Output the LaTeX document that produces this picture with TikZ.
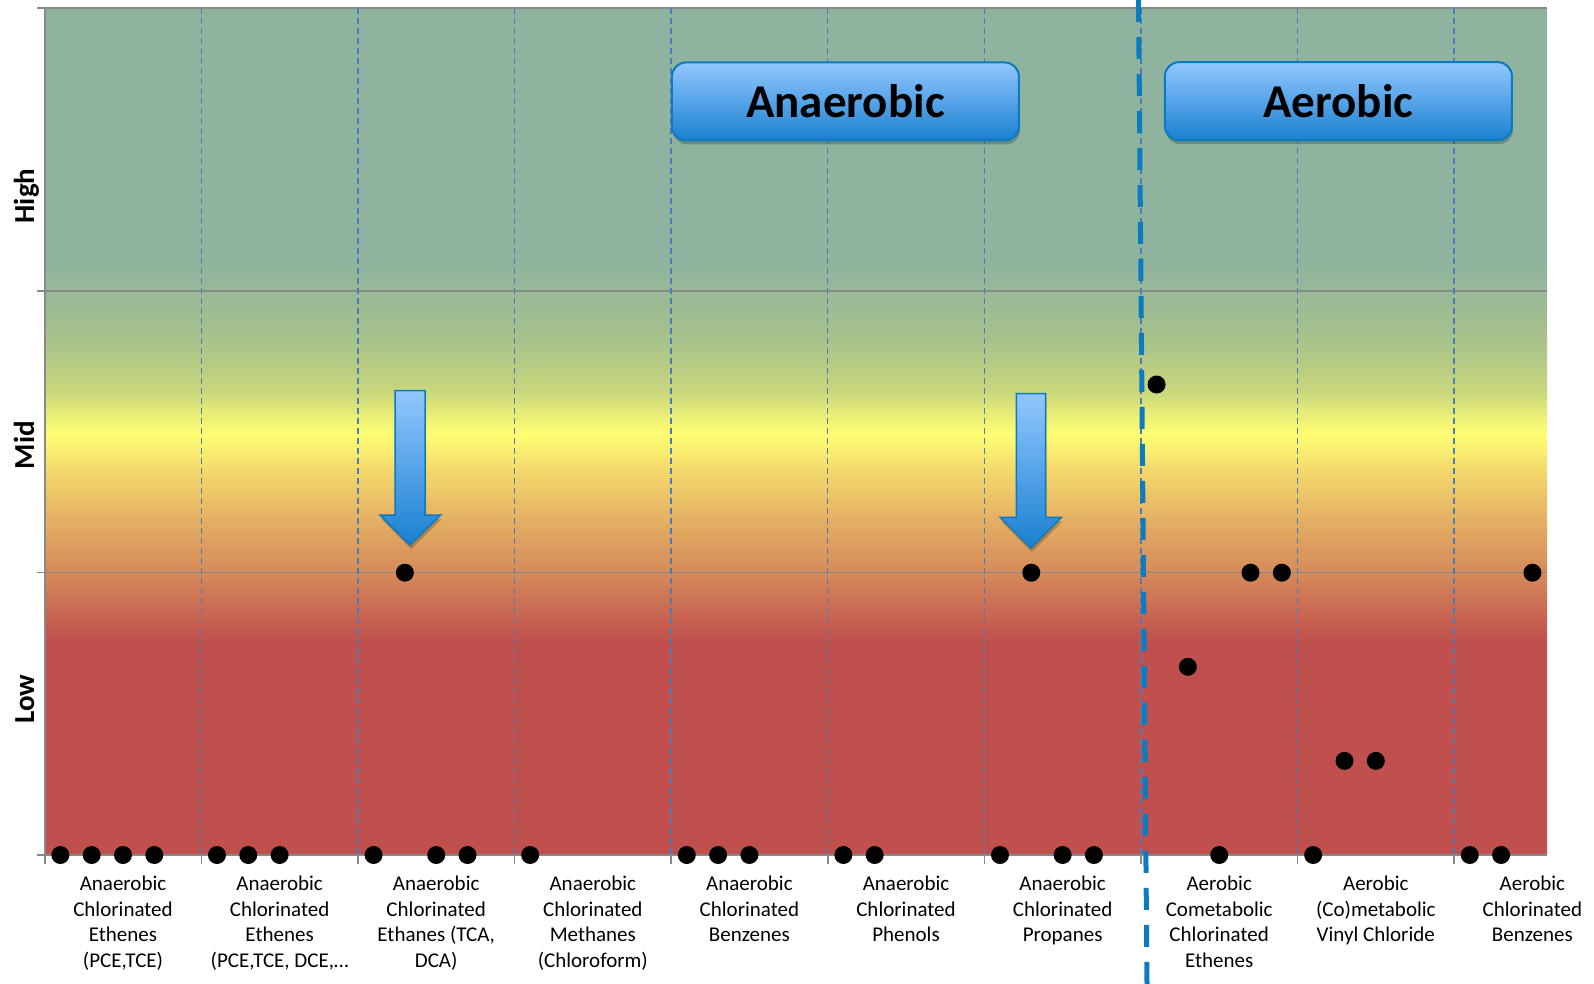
\documentclass[tikz,border=0pt]{standalone}
\usepackage{fontspec}
\setmainfont{Carlito}
\usetikzlibrary{shadows}
\definecolor{bgred}{HTML}{C0504D}
\definecolor{bgc1}{HTML}{D58A5A}
\definecolor{bgc2}{HTML}{E3AD63}
\definecolor{bgc3}{HTML}{F3D66B}
\definecolor{bgyel}{HTML}{FFFF73}
\definecolor{bgc5}{HTML}{C8D67C}
\definecolor{bgc6}{HTML}{A8C28B}
\definecolor{bggreen}{HTML}{8FB39F}
\definecolor{gridgray}{HTML}{898989}
\definecolor{coldash}{HTML}{4A7EBB}
\definecolor{splitblue}{HTML}{0C7CC1}
\definecolor{boxedge}{HTML}{0B7BC0}
\definecolor{boxtop}{HTML}{92C7FF}
\definecolor{boxbot}{HTML}{1A80D0}
\pgfdeclareverticalshading{chartbg}{100bp}{%
color(0bp)=(bgred);
color(25bp)=(bgred);
color(37.69bp)=(bgred);
color(41.65bp)=(bgc1);
color(44.60bp)=(bgc2);
color(47.55bp)=(bgc3);
color(49.91bp)=(bgyel);
color(52.45bp)=(bgc5);
color(55.40bp)=(bgc6);
color(60.12bp)=(bggreen);
color(75bp)=(bggreen);
color(100bp)=(bggreen)}
\begin{document}
\begin{tikzpicture}[x=1pt,y=-1pt,
  gridline/.style={draw=gridgray, line width=1.6pt},
  coldivider/.style={draw=coldash, line width=1.3pt, dash pattern=on 6pt off 4pt},
  splitline/.style={draw=splitblue, line width=5pt, dash pattern=on 22pt off 15pt},
  dot/.style={circle, fill=black, inner sep=0pt, minimum size=18pt},
  collabel/.style={anchor=base, align=flush center, text width=156pt, inner sep=0pt,
    font=\fontsize{21}{25.7}\selectfont},
  levellabel/.style={rotate=90, anchor=base, inner sep=0pt,
    font=\fontsize{29}{34}\selectfont\bfseries},
  phasebox/.style={draw=boxedge, line width=2pt, rounded corners=14pt,
    minimum width=347pt, minimum height=78pt, top color=boxtop, bottom color=boxbot,
    font=\fontsize{47}{56}\selectfont\bfseries,
    drop shadow={shadow xshift=1pt, shadow yshift=-4pt, opacity=0.22, fill=black}},
  blockarrow/.style={draw=boxedge, line width=1.5pt, top color=boxtop, bottom color=boxbot,
    drop shadow={shadow xshift=1pt, shadow yshift=-4pt, opacity=0.22, fill=black}}
]
\useasboundingbox (0,0) rectangle (1594,984);
\fill[white] (0,0) rectangle (1594,984);
% background
\shade[shading=chartbg] (44.7,8.1) rectangle (1547,855);
% horizontal grid lines and axes
\foreach \yy in {8.1,290.7,572.3,855} {
  \draw[gridline] (37,\yy) -- (1547,\yy);
}
\draw[gridline] (44.7,8.1) -- (44.7,855);
\foreach \i in {0,...,9} {
  \draw[gridline] ({44.7+156.6*\i},855) -- ({44.7+156.6*\i},864);
}
% column dividers
\foreach \i in {1,...,9} {
  \draw[coldivider] ({44.7+156.6*\i},8.1) -- ({44.7+156.6*\i},855);
}
% anaerobic/aerobic split
\coordinate (splittop) at (1138.5,0);
\coordinate (splitbot) at (1147,984);
\draw[splitline] (splittop) -- (splitbot);
% phase boxes
\node[phasebox] (anaer) at (845.4,101.5) {Anaerobic};
\node[phasebox] (aer) at (1338.4,101.2) {Aerobic};
% block arrows
\path[blockarrow] (395,390.7) -- (425,390.7) -- (425,515) -- (440.7,515) -- (410,545)
  -- (380,515) -- (395,515) -- cycle;
\path[blockarrow] (1016.3,393.6) -- (1045.5,393.6) -- (1045.5,517.3) -- (1061.5,517.3)
  -- (1030.8,548) -- (1000.2,517.3) -- (1016.3,517.3) -- cycle;
% level labels
\node[levellabel] (high) at (34,196) {High};
\node[levellabel] (mid) at (34,445) {Mid};
\node[levellabel] (low) at (34,699) {Low};
% column labels
\node[collabel] (lab0) at (123.0,890.3) {Anaerobic\\Chlorinated\\Ethenes\\(PCE,TCE)};
\node[collabel] (lab1) at (279.6,890.3) {Anaerobic\\Chlorinated\\Ethenes\\(PCE,TCE, DCE,…};
\node[collabel] (lab2) at (436.2,890.3) {Anaerobic\\Chlorinated\\Ethanes (TCA,\\DCA)};
\node[collabel] (lab3) at (592.8,890.3) {Anaerobic\\Chlorinated\\Methanes\\(Chloroform)};
\node[collabel] (lab4) at (749.4,890.3) {Anaerobic\\Chlorinated\\Benzenes};
\node[collabel] (lab5) at (906.0,890.3) {Anaerobic\\Chlorinated\\Phenols};
\node[collabel] (lab6) at (1062.6,890.3) {Anaerobic\\Chlorinated\\Propanes};
\node[collabel] (lab7) at (1219.2,890.3) {Aerobic\\Cometabolic\\Chlorinated\\Ethenes};
\node[collabel] (lab8) at (1375.8,890.3) {Aerobic\\(Co)metabolic\\Vinyl Chloride};
\node[collabel] (lab9) at (1532.4,890.3) {Aerobic\\Chlorinated\\Benzenes};
% data points
\foreach \c/\k/\v in {0/0/0,0/1/0,0/2/0,0/3/0,
  1/0/0,1/1/0,1/2/0,
  2/0/0,2/1/3,2/2/0,2/3/0,
  3/0/0,
  4/0/0,4/1/0,4/2/0,
  5/0/0,5/1/0,
  6/0/0,6/1/3,6/2/0,6/3/0,
  7/0/5,7/1/2,7/2/0,7/3/3,7/4/3,
  8/0/0,8/1/1,8/2/1,
  9/0/0,9/1/0,9/2/3} {
  \node[dot] (dot-\c-\k) at ({44.7+156.6*\c+15.66+31.32*\k},{855-94.1*\v}) {};
}
\end{tikzpicture}
\end{document}
